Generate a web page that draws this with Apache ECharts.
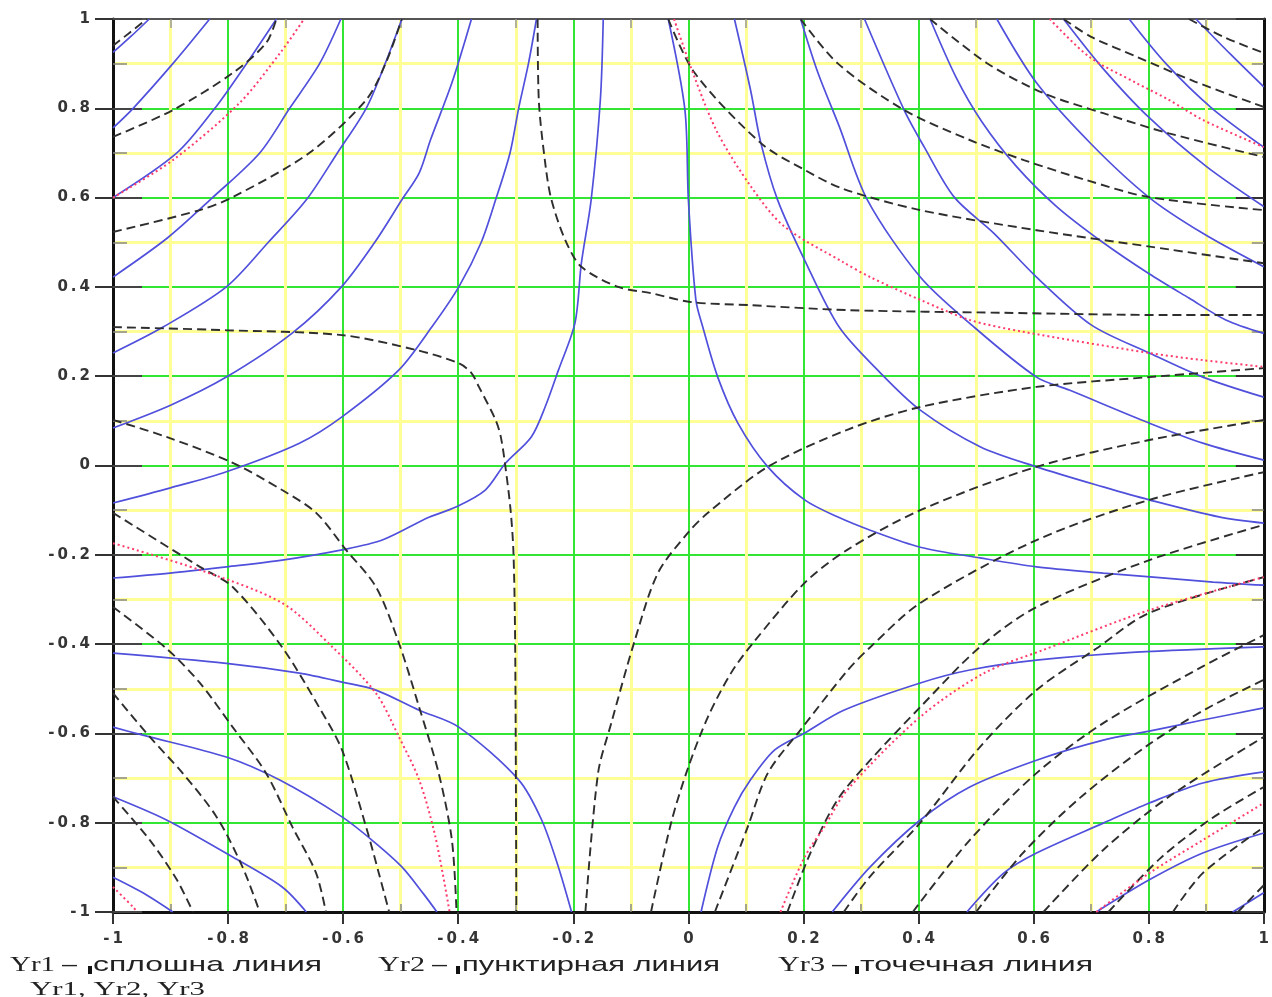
<!DOCTYPE html>
<html>
<head>
<meta charset="utf-8">
<script src="https://cdn.jsdelivr.net/npm/echarts@6/dist/echarts.min.js"></script>
<style>
  html, body { margin: 0; padding: 0; background: #ffffff; }
  #chart { width: 1272px; height: 997px; }
</style>
</head>
<body>
<div id="chart"></div>
<script>
// Tick labels shared by both axes
const tickLabels = ['-1', '-0.8', '-0.6', '-0.4', '-0.2', '0', '0.2', '0.4', '0.6', '0.8', '1'];

// ---- Yr1: solid level lines ----
const s01 = [[-1,0.925],[-0.968,0.962],[-0.937,1]];
const s02 = [[-1,0.756],[-0.965,0.8],[-0.896,0.9],[-0.832,1]];
const s03 = [[-1,0.6],[-0.889,0.7],[-0.823,0.8],[-0.768,0.9],[-0.716,1]];
const s04 = [[-1,0.422],[-0.905,0.51],[-0.827,0.6],[-0.745,0.7],[-0.693,0.8],[-0.641,0.9],[-0.604,1]];
const s05 = [[-1,0.252],[-0.913,0.31],[-0.803,0.4],[-0.73,0.5],[-0.664,0.595],[-0.61,0.7],[-0.56,0.8],[-0.527,0.9],[-0.498,1]];
const s06 = [[-1,0.084],[-0.9,0.135],[-0.803,0.198],[-0.688,0.297],[-0.603,0.4],[-0.545,0.5],[-0.498,0.595],[-0.468,0.655],[-0.448,0.73],[-0.411,0.857],[-0.377,1]];
const s07 = [[-1,-0.084],[-0.9,-0.05],[-0.803,-0.014],[-0.676,0.05],[-0.602,0.109],[-0.503,0.214],[-0.446,0.31],[-0.399,0.4],[-0.36,0.5],[-0.335,0.595],[-0.31,0.7],[-0.295,0.8],[-0.278,0.9],[-0.264,1]];
const s08 = [[-1,-0.252],[-0.901,-0.241],[-0.803,-0.227],[-0.706,-0.212],[-0.602,-0.189],[-0.532,-0.167],[-0.451,-0.116],[-0.404,-0.093],[-0.353,-0.055],[-0.318,0.005],[-0.273,0.064],[-0.249,0.131],[-0.226,0.213],[-0.197,0.32],[-0.186,0.453],[-0.169,0.595],[-0.153,0.819],[-0.148,1]];
const s09 = [[-0.035,1],[-0.006,0.796],[0,0.595],[0.013,0.371],[0.025,0.31],[0.051,0.198],[0.086,0.095],[0.138,-0.003],[0.202,-0.077],[0.259,-0.115],[0.316,-0.145],[0.403,-0.183],[0.507,-0.207],[0.605,-0.227],[0.721,-0.241],[0.808,-0.25],[0.912,-0.261],[1,-0.268]];
const s10 = [[0.08,1],[0.108,0.841],[0.126,0.722],[0.155,0.595],[0.202,0.46],[0.262,0.31],[0.334,0.207],[0.403,0.124],[0.507,0.042],[0.605,-0.003],[0.721,-0.048],[0.801,-0.077],[0.922,-0.115],[1,-0.129]];
const s11 = [[0.195,1],[0.225,0.88],[0.262,0.76],[0.311,0.595],[0.403,0.422],[0.492,0.315],[0.605,0.198],[0.662,0.169],[0.801,0.095],[0.894,0.05],[1,0.012]];
const s12 = [[0.306,1],[0.375,0.796],[0.41,0.713],[0.462,0.601],[0.531,0.52],[0.605,0.422],[0.7,0.315],[0.801,0.252],[0.894,0.198],[1,0.153]];
const s13 = [[0.42,1],[0.465,0.87],[0.51,0.77],[0.57,0.67],[0.64,0.58],[0.72,0.5],[0.8,0.43],[0.87,0.375],[0.934,0.326],[1,0.296]];
const s14 = [[0.536,1],[0.605,0.857],[0.7,0.72],[0.801,0.6],[0.894,0.52],[1,0.445]];
const s15 = [[0.652,1],[0.72,0.89],[0.8,0.78],[0.9,0.67],[1,0.58]];
const s16 = [[0.766,1],[0.83,0.9],[0.91,0.8],[1,0.713]];
const s17 = [[0.882,1],[0.943,0.92],[1,0.848]];
const s18 = [[-1,-0.42],[-0.803,-0.443],[-0.676,-0.465],[-0.602,-0.485],[-0.543,-0.503],[-0.468,-0.548],[-0.399,-0.586],[-0.295,-0.704],[-0.255,-0.794],[-0.226,-0.899],[-0.203,-1]];
const s19 = [[-1,-0.586],[-0.948,-0.604],[-0.803,-0.653],[-0.711,-0.704],[-0.602,-0.787],[-0.55,-0.839],[-0.498,-0.899],[-0.46,-0.96],[-0.437,-1]];
const s20 = [[-1,-0.742],[-0.907,-0.794],[-0.792,-0.877],[-0.706,-0.944],[-0.664,-1]];
const s21 = [[-1,-0.922],[-0.948,-0.957],[-0.896,-1]];
const s22 = [[0.022,-1],[0.051,-0.854],[0.08,-0.765],[0.108,-0.704],[0.15,-0.637],[0.202,-0.599],[0.27,-0.548],[0.403,-0.487],[0.489,-0.458],[0.605,-0.436],[0.778,-0.418],[1,-0.406]];
const s23 = [[0.25,-1],[0.316,-0.899],[0.403,-0.794],[0.489,-0.72],[0.605,-0.66],[0.721,-0.615],[0.801,-0.595],[0.894,-0.57],[1,-0.543]];
const s24 = [[0.484,-1],[0.548,-0.913],[0.605,-0.868],[0.721,-0.801],[0.801,-0.756],[0.894,-0.711],[1,-0.686]];
const s25 = [[0.709,-1],[0.801,-0.928],[0.894,-0.868],[1,-0.823]];
const s26 = [[0.946,-1],[1,-0.957]];

// ---- Yr2: dashed level lines ----
const d01 = [[-1,0.94],[-0.941,1]];
const d02 = [[-1,0.736],[-0.896,0.796],[-0.792,0.879],[-0.734,0.946],[-0.716,1]];
const d03 = [[-1,0.523],[-0.849,0.572],[-0.792,0.601],[-0.659,0.7],[-0.56,0.819],[-0.526,0.901],[-0.498,1]];
const d04 = [[-1,0.31],[-0.803,0.303],[-0.602,0.292],[-0.474,0.259],[-0.399,0.229],[-0.377,0.207],[-0.364,0.176],[-0.335,0.102],[-0.326,0.064],[-0.318,-0.003],[-0.309,-0.1],[-0.304,-0.196],[-0.301,-0.41],[-0.299,-1]];
const d05 = [[-0.262,1],[-0.26,0.819],[-0.248,0.669],[-0.238,0.595],[-0.214,0.505],[-0.186,0.445],[-0.122,0.4],[-0.065,0.386],[0.005,0.366],[0.108,0.359],[0.276,0.348],[0.548,0.342],[0.835,0.337],[1,0.337]];
const d06 = [[-0.035,1],[0.011,0.879],[0.126,0.722],[0.202,0.662],[0.268,0.62],[0.403,0.572],[0.605,0.527],[0.808,0.489],[1,0.453]];
const d07 = [[0.195,1],[0.26,0.9],[0.375,0.796],[0.489,0.729],[0.583,0.684],[0.692,0.639],[0.801,0.601],[1,0.572]];
const d08 = [[0.42,1],[0.519,0.901],[0.617,0.834],[0.721,0.789],[0.835,0.744],[1,0.691]];
const d09 = [[0.652,1],[0.7,0.96],[0.78,0.915],[0.88,0.86],[1,0.803]];
const d10 = [[0.87,1],[0.93,0.96],[1,0.924]];
const d11 = [[-1,0.102],[-0.907,0.064],[-0.792,0.006],[-0.706,-0.055],[-0.647,-0.106],[-0.595,-0.189],[-0.543,-0.272],[-0.503,-0.398],[-0.468,-0.541],[-0.434,-0.689],[-0.411,-0.839],[-0.403,-1]];
const d12 = [[-1,-0.106],[-0.849,-0.227],[-0.792,-0.272],[-0.706,-0.407],[-0.642,-0.541],[-0.602,-0.637],[-0.56,-0.81],[-0.538,-0.913],[-0.52,-1]];
const d13 = [[-1,-0.317],[-0.907,-0.41],[-0.849,-0.487],[-0.792,-0.586],[-0.734,-0.689],[-0.688,-0.81],[-0.647,-0.913],[-0.63,-1]];
const d14 = [[-1,-0.51],[-0.936,-0.608],[-0.879,-0.689],[-0.82,-0.787],[-0.775,-0.899],[-0.745,-1]];
const d15 = [[-1,-0.742],[-0.936,-0.839],[-0.889,-0.928],[-0.861,-1]];
const d16 = [[-0.179,-1],[-0.157,-0.689],[-0.134,-0.577],[-0.093,-0.391],[-0.053,-0.241],[-0.001,-0.151],[0.034,-0.106],[0.138,-0.003],[0.276,0.08],[0.403,0.131],[0.605,0.176],[0.801,0.198],[1,0.218]];
const d17 = [[-0.065,-1],[-0.03,-0.8],[0,-0.675],[0.034,-0.563],[0.074,-0.465],[0.112,-0.398],[0.202,-0.263],[0.276,-0.189],[0.403,-0.1],[0.605,-0.003],[0.801,0.057],[1,0.102]];
const d18 = [[0.046,-1],[0.103,-0.81],[0.138,-0.689],[0.195,-0.592],[0.276,-0.46],[0.316,-0.407],[0.403,-0.308],[0.605,-0.167],[0.801,-0.077],[1,-0.015]];
const d19 = [[0.172,-1],[0.212,-0.868],[0.259,-0.749],[0.316,-0.66],[0.403,-0.541],[0.507,-0.406],[0.605,-0.317],[0.801,-0.212],[1,-0.133]];
const d20 = [[0.27,-1],[0.316,-0.92],[0.403,-0.8],[0.507,-0.63],[0.605,-0.503],[0.709,-0.41],[0.801,-0.33],[1,-0.25]];
const d21 = [[0.39,-1],[0.489,-0.839],[0.605,-0.689],[0.721,-0.577],[0.894,-0.45],[1,-0.38]];
const d22 = [[0.5,-1],[0.58,-0.87],[0.68,-0.745],[0.8,-0.625],[0.9,-0.545],[1,-0.48]];
const d23 = [[0.617,-1],[0.721,-0.861],[0.835,-0.742],[1,-0.608]];
const d24 = [[0.73,-1],[0.82,-0.88],[0.91,-0.79],[1,-0.72]];
const d25 = [[0.842,-1],[0.894,-0.913],[1,-0.81]];
const d26 = [[0.955,-1],[1,-0.94]];

// ---- Yr3: dotted level lines ----
const r01 = [[-1,0.6],[-0.896,0.684],[-0.78,0.812],[-0.706,0.93],[-0.668,1]];
const r02 = [[-0.025,1],[0.01,0.872],[0.05,0.747],[0.108,0.626],[0.166,0.536],[0.268,0.456],[0.316,0.422],[0.403,0.371],[0.489,0.326],[0.58,0.3],[0.801,0.252],[0.894,0.236],[1,0.221]];
const r03 = [[-1,-0.174],[-0.849,-0.234],[-0.706,-0.308],[-0.62,-0.405],[-0.543,-0.51],[-0.503,-0.608],[-0.468,-0.704],[-0.44,-0.83],[-0.415,-1]];
const r04 = [[0.16,-1],[0.202,-0.877],[0.236,-0.81],[0.276,-0.727],[0.403,-0.563],[0.514,-0.465],[0.617,-0.413],[0.801,-0.324],[1,-0.25]];
const r05 = [[0.709,-1],[0.801,-0.913],[0.894,-0.839],[1,-0.756]];
const r06 = [[0.628,1],[0.697,0.915],[0.778,0.857],[0.835,0.819],[0.894,0.774],[1,0.713]];
const r07 = [[-1,-0.944],[-0.965,-0.989],[-0.958,-1]];

const yr1 = [s01,s02,s03,s04,s05,s06,s07,s08,s09,s10,s11,s12,s13,s14,s15,s16,s17,s18,s19,s20,s21,s22,s23,s24,s25,s26];
const yr2 = [d01,d02,d03,d04,d05,d06,d07,d08,d09,d10,d11,d12,d13,d14,d15,d16,d17,d18,d19,d20,d21,d22,d23,d24,d25,d26];
const yr3 = [r01,r02,r03,r04,r05,r06,r07];

// Legend captions under the plot
const legendItems = [
  { key: 'Yr1', text: 'сплошна линия' },
  { key: 'Yr2', text: 'пунктирная линия' },
  { key: 'Yr3', text: 'точечная линия' }
];
const legendFooter = 'Yr1, Yr2, Yr3';

// ---------------------------------------------------------------
const chart = echarts.init(document.getElementById('chart'), null, { renderer: 'canvas' });

const styleSolid  = { color: '#5050dc', width: 1.7, type: 'solid' };
const styleDashed = { color: '#2e2e2e', width: 1.9, type: [9, 5] };
const styleDotted = { color: '#ff3c6c', width: 2, type: [2, 3] };

function curve(name, data, lineStyle, z) {
  return {
    type: 'line', name, data, z,
    xAxisIndex: 0, yAxisIndex: 0,
    showSymbol: false, symbol: 'none',
    smooth: 0.3, clip: true, silent: true,
    emphasis: { disabled: true },
    lineStyle
  };
}

const series = [];
yr1.forEach(d => series.push(curve('Yr1', d, styleSolid, 3)));
yr2.forEach(d => series.push(curve('Yr2', d, styleDashed, 4)));
yr3.forEach(d => series.push(curve('Yr3', d, styleDotted, 5)));

// spaced-out tick text
function tickText(v) {
  const i = Math.round((v + 1) / 0.2);
  return (tickLabels[i] || '').split('').join('\u2009');
}

const labelFont = { color: '#353535', fontFamily: 'DejaVu Sans', fontWeight: 'bold', fontSize: 15 };
const green = { color: '#33e633', width: 2 };
const yellow = { color: '#ffff96', width: 3 };

const baseAxis = { type: 'value', min: -1, max: 1, interval: 0.2 };

// text helpers for the caption rows (stretched to their measured spans)
const measureCtx = document.createElement('canvas').getContext('2d');
function spanText(str, font, x0, x1, y, fill) {
  measureCtx.font = font;
  const w = measureCtx.measureText(str).width || 1;
  return {
    type: 'text', x: x0, y: y, scaleX: (x1 - x0) / w, scaleY: 1, silent: true,
    style: { text: str, font: font, fill: fill || '#222', align: 'left', verticalAlign: 'middle',
             textAlign: 'left', textVerticalAlign: 'middle' }
  };
}
const serifFont = '21px "Liberation Serif"';
const sansFont = '21px "Liberation Sans"';
const legendSpans = [
  { key: [10, 55], dash: [62, 77], mark: 88, text: [93, 322] },
  { key: [378, 425], dash: [432, 447], mark: 456, text: [462, 720] },
  { key: [778, 825], dash: [832, 847], mark: 855, text: [860, 1093] }
];
const graphics = [];
legendItems.forEach((it, i) => {
  const sp = legendSpans[i];
  graphics.push(spanText(it.key, serifFont, sp.key[0], sp.key[1], 965));
  graphics.push(spanText('–', sansFont, sp.dash[0], sp.dash[1], 965));
  graphics.push({ type: 'rect', silent: true, shape: { x: sp.mark, y: 966, width: 4, height: 8 }, style: { fill: '#111' } });
  graphics.push(spanText(it.text, sansFont, sp.text[0], sp.text[1], 965));
});
graphics.push(spanText(legendFooter, '18px "Liberation Serif"', 30, 205, 990));

chart.setOption({
  animation: false,
  backgroundColor: '#ffffff',
  grid: { left: 113, right: 4, top: 19, bottom: 85, containLabel: false },
  xAxis: [
    Object.assign({}, baseAxis, {
      position: 'bottom',
      axisLine: { show: true, onZero: false, lineStyle: { color: '#111', width: 3 } },
      axisTick: { show: true, inside: false, length: 12, lineStyle: { color: '#333', width: 2 } },
      minorTick: { show: false, splitNumber: 2 },
      axisLabel: Object.assign({ margin: 20, formatter: tickText }, labelFont),
      splitLine: { show: true, lineStyle: green },
      minorSplitLine: { show: true, lineStyle: yellow }
    }),
    Object.assign({}, baseAxis, {
      position: 'top',
      axisLine: { show: true, onZero: false, lineStyle: { color: '#555', width: 2 } },
      axisTick: { show: false, inside: true },
      minorTick: { show: true, splitNumber: 2, length: 9, lineStyle: { color: '#999', width: 1.5 } },
      axisLabel: { show: false },
      splitLine: { show: false }
    }),
    Object.assign({}, baseAxis, {
      position: 'bottom',
      axisLine: { show: false, onZero: false },
      axisTick: { show: false, inside: true },
      minorTick: { show: true, splitNumber: 2, length: 8, lineStyle: { color: '#888', width: 1.5 } },
      axisLabel: { show: false },
      splitLine: { show: false }
    })
  ],
  yAxis: [
    Object.assign({}, baseAxis, {
      position: 'left',
      axisLine: { show: true, onZero: false, lineStyle: { color: '#111', width: 3 } },
      axisTick: { show: true, inside: false, length: 18, lineStyle: { color: '#333', width: 2 } },
      minorTick: { show: false, splitNumber: 2 },
      axisLabel: Object.assign({ margin: 23, formatter: tickText }, labelFont),
      splitLine: { show: true, lineStyle: green },
      minorSplitLine: { show: true, lineStyle: yellow }
    }),
    Object.assign({}, baseAxis, {
      position: 'left',
      axisLine: { show: false, onZero: false },
      axisTick: { show: true, inside: true, length: 29, lineStyle: { color: '#444', width: 2 } },
      minorTick: { show: true, splitNumber: 2, length: 14, lineStyle: { color: '#888', width: 1.5 } },
      axisLabel: { show: false },
      splitLine: { show: false }
    }),
    Object.assign({}, baseAxis, {
      position: 'right',
      axisLine: { show: true, onZero: false, lineStyle: { color: '#111', width: 3 } },
      axisTick: { show: true, inside: true, length: 28, lineStyle: { color: '#333', width: 2 } },
      minorTick: { show: true, splitNumber: 2, length: 12, lineStyle: { color: '#888', width: 1.5 } },
      axisLabel: { show: false },
      splitLine: { show: false }
    })
  ],
  series: series,
  graphic: graphics
});
</script>
</body>
</html>
